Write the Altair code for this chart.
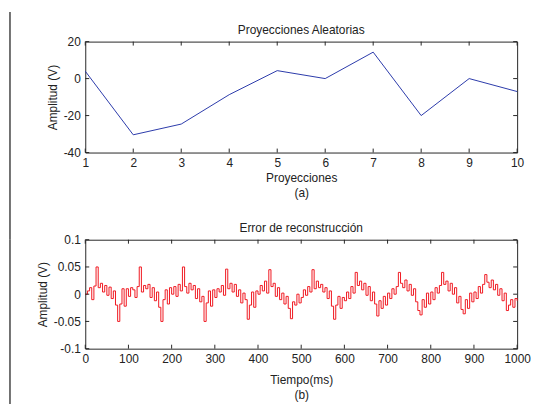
import altair as alt
import pandas as pd

# ---- top panel data ----
proj_x = [1, 2, 3, 4, 5, 6, 7, 8, 9, 10]
proj_y = [4.0, -30.4, -24.6, -8.7, 4.3, 0.0, 14.3, -20.0, 0.0, -7.0]
top_xticks = [1, 2, 3, 4, 5, 6, 7, 8, 9, 10]
top_yticks = [-40, -20, 0, 20]

# ---- bottom panel data (5 ms samples) ----
err_vals = [
    0.000, 0.006, 0.012, -0.010, 0.015, 0.050, 0.012, 0.020, 0.004, 0.016,
    -0.002, 0.013, -0.008, 0.006, -0.020, -0.050, -0.018, 0.010, -0.022, 0.010,
    -0.004, 0.012, 0.008, -0.006, 0.014, 0.050, 0.004, 0.016, 0.010, 0.018,
    -0.006, 0.012, -0.012, 0.004, -0.024, -0.050, -0.010, 0.008, -0.018, 0.012,
    0.000, 0.014, -0.004, 0.018, 0.006, 0.050, 0.014, 0.002, 0.020, 0.008,
    0.016, -0.008, 0.010, -0.014, -0.004, -0.050, -0.016, 0.006, -0.022, 0.008,
    -0.006, 0.010, 0.004, 0.016, -0.002, 0.046, 0.010, 0.020, 0.004, 0.018,
    -0.004, 0.008, -0.016, 0.002, -0.010, -0.046, -0.020, 0.004, -0.024, 0.006,
    0.000, 0.016, 0.006, 0.024, 0.002, 0.045, 0.014, 0.020, -0.004, 0.012,
    -0.010, 0.002, -0.018, -0.004, -0.026, -0.045, -0.014, -0.020, 0.000, -0.016,
    -0.006, 0.008, -0.002, 0.014, 0.004, 0.045, 0.010, 0.024, 0.012, 0.018,
    0.004, 0.012, -0.008, 0.006, -0.022, -0.046, -0.020, -0.004, -0.026, -0.006,
    -0.012, 0.004, -0.008, 0.014, 0.002, 0.040, 0.016, 0.024, 0.008, 0.020,
    -0.002, 0.014, -0.012, 0.004, -0.018, -0.040, -0.012, -0.026, -0.004, -0.020,
    0.002, -0.008, 0.010, 0.000, 0.014, 0.040, 0.020, 0.012, 0.026, 0.006,
    0.018, -0.002, 0.010, -0.014, -0.030, -0.038, -0.010, -0.024, 0.002, -0.018,
    0.004, -0.010, 0.012, 0.002, 0.016, 0.040, 0.018, 0.024, 0.006, 0.020,
    0.000, 0.012, -0.016, -0.004, -0.028, -0.036, -0.010, -0.026, 0.002, -0.014,
    0.004, -0.008, 0.014, 0.002, 0.018, 0.036, 0.022, 0.012, 0.026, 0.008,
    0.018, -0.002, 0.010, -0.012, 0.002, -0.030, -0.020, -0.010, -0.024, -0.008,
    -0.012,
]
err_t = [5 * i for i in range(len(err_vals))]
bot_xticks = [0, 100, 200, 300, 400, 500, 600, 700, 800, 900, 1000]
bot_yticks = [-0.1, -0.05, 0, 0.05, 0.1]

W = 436
H1 = 112
H2 = 110
TK = 4
FONT = "Liberation Sans"
TXT = "#222222"
FRAME = "#262626"


def panel(df, xf, yf, xdom, ydom, xticks, yticks, color, interp, title, xtitle, H,
          rule_top, rule_bot, xtpad):
    xs = alt.Scale(domain=xdom, nice=False, zero=False)
    ys = alt.Scale(domain=ydom, nice=False, zero=False)
    xa = alt.Axis(values=xticks, title=xtitle, titlePadding=xtpad, labelExpr="datum.value + ''")
    ya = alt.Axis(values=yticks, title="Amplitud (V)", labelExpr="datum.value + ''")
    X = alt.X(f"{xf}:Q", scale=xs, axis=xa)
    Y = alt.Y(f"{yf}:Q", scale=ys, axis=ya)
    line = alt.Chart(df).mark_line(color=color, strokeWidth=1, interpolate=interp).encode(x=X, y=Y)
    xt = pd.DataFrame({xf: xticks})
    yt = pd.DataFrame({yf: yticks})
    tb = alt.Chart(xt).mark_rule(color=FRAME).encode(x=X, y=alt.value(H), y2=alt.value(H - TK))
    tt = alt.Chart(xt).mark_rule(color=FRAME).encode(x=X, y=alt.value(0), y2=alt.value(TK))
    tl = alt.Chart(yt).mark_rule(color=FRAME).encode(y=Y, x=alt.value(0), x2=alt.value(TK))
    tr = alt.Chart(yt).mark_rule(color=FRAME).encode(y=Y, x=alt.value(W), x2=alt.value(W - TK))
    one = pd.DataFrame({"a": [0]})
    border = alt.Chart(one).mark_rule(color="#444444", strokeWidth=1.5).encode(
        x=alt.value(-76), y=alt.value(rule_top), y2=alt.value(rule_bot))
    ttl = alt.Chart(one).mark_text(font=FONT, fontSize=12, color=TXT, align="center",
                                   baseline="alphabetic").encode(
        x=alt.value(W / 2), y=alt.value(-8), text=alt.value(title))
    return alt.layer(line, tb, tt, tl, tr, border, ttl).properties(width=W, height=H)


top_df = pd.DataFrame({"proy": proj_x, "amp": proj_y})
bot_df = pd.DataFrame({"t": err_t, "err": err_vals})

top = panel(top_df, "proy", "amp", [1, 10], [-40, 20], top_xticks, top_yticks,
            "#2a3aaa", "linear", "Proyecciones Aleatorias", ["Proyecciones", "(a)"], H1, -30, 200, 4)
bot = panel(bot_df, "t", "err", [0, 1000], [-0.1, 0.1], bot_xticks, bot_yticks,
            "#f01820", "step-after", "Error de reconstrucción", ["Tiempo(ms)", "(b)"], H2, 0, 170, 10)

chart = alt.vconcat(top, bot, spacing=88, bounds="flush").properties(
    padding={"left": 0, "top": 0, "right": 0, "bottom": 0}
).configure_view(stroke=FRAME, strokeWidth=1).configure_axis(
    grid=False, domain=False, ticks=False,
    labelFont=FONT, labelFontSize=12, labelColor=TXT, labelPadding=5,
    titleFont=FONT, titleFontSize=12, titleFontWeight="normal", titleColor=TXT,
    titleLineHeight=15, labelFlush=False, labelOverlap=False,
)

chart.save("out.html", embed_options={"renderer": "svg", "actions": False})
